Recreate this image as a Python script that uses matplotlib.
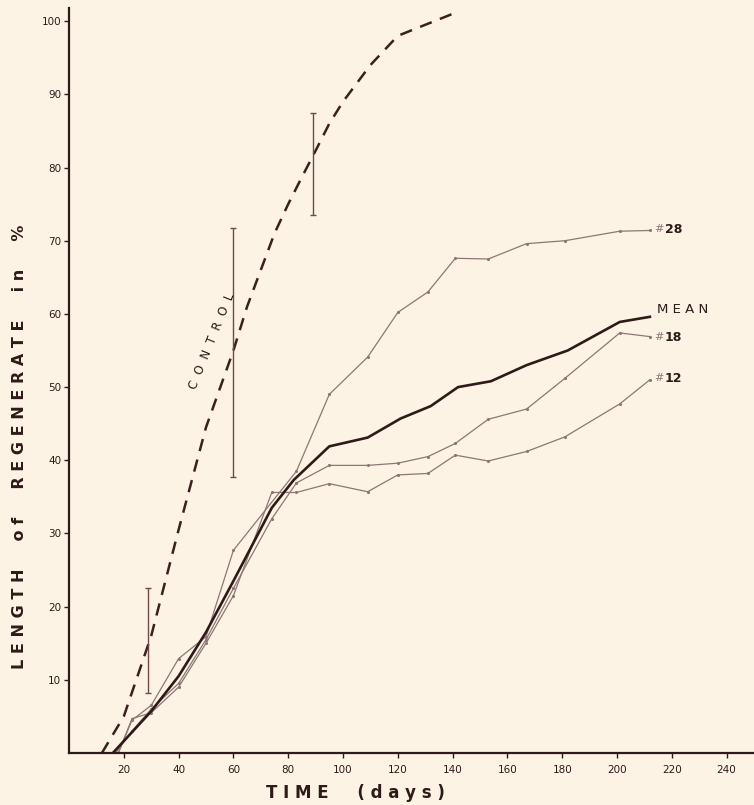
import matplotlib.pyplot as plt
import numpy as np

# colours
bg = "#fcf3e4"
ink = "#2e1a18"
thin = "#8c7774"

# control (dashed) curve
ctrl_days = [12, 20, 30, 40, 50, 60, 65, 70, 75, 80, 85, 90, 95, 100, 110, 120, 130, 140]
ctrl_pct = [0, 5, 16, 30.5, 44.5, 55, 61, 66, 71, 75, 78.7, 82.3, 86, 89, 94, 98, 99.5, 101]

# error bars on the control curve
err_days = [29, 60, 89]
err_mid = [15, 54, 81]
err_lo = [8.2, 37.7, 73.5]
err_hi = [22.5, 71.7, 87.4]

# mean of the operated animals
mean_days = [16, 30, 40, 50, 60, 74, 82, 95, 109, 121, 132, 142, 154, 167, 182, 201, 212]
mean_pct = [0, 5.7, 10.5, 16.5, 23.5, 33.5, 37.3, 41.9, 43.1, 45.7, 47.4, 50.0, 50.8, 53.0, 55.0, 58.9, 59.6]

# individual animals
a28_days = [18, 23, 30, 40, 50, 60, 83, 95, 109, 120, 131, 141, 153, 167, 181, 201, 212]
a28_pct = [0, 4.5, 6.5, 12.9, 15.9, 27.7, 38.5, 49.0, 54.1, 60.2, 63.0, 67.6, 67.5, 69.6, 70.0, 71.3, 71.4]

a18_days = [17, 23, 30, 40, 50, 60, 74, 83, 95, 109, 120, 131, 141, 153, 167, 181, 201, 212]
a18_pct = [0, 3.0, 6.0, 9.5, 15.5, 22.5, 32.0, 36.9, 39.3, 39.3, 39.6, 40.5, 42.3, 45.6, 47.0, 51.2, 57.4, 56.9]

a12_days = [18, 23, 30, 40, 50, 60, 74, 83, 95, 109, 120, 131, 141, 153, 167, 181, 201, 212]
a12_pct = [0, 4.7, 5.5, 9.0, 15.0, 21.5, 35.6, 35.6, 36.8, 35.7, 38.0, 38.2, 40.7, 39.9, 41.2, 43.2, 47.7, 51.0]

fig = plt.figure(figsize=(7.54, 8.05), dpi=100, facecolor=bg)
ax = fig.add_axes([69/754, 52/805, 1 - 69/754, 745/805])
ax.set_facecolor(bg)

# thin individual curves
for d, p in [(a28_days, a28_pct), (a18_days, a18_pct), (a12_days, a12_pct)]:
    ax.plot(d, p, color=thin, lw=0.9, marker=".", ms=2.5)

# mean
ax.plot(mean_days, mean_pct, color=ink, lw=1.9, solid_joinstyle="round")

# control
ln, = ax.plot(ctrl_days, ctrl_pct, color="#3b2020", lw=1.8)
ln.set_dashes((5, 3.5))

yerr = [np.array(err_mid) - np.array(err_lo), np.array(err_hi) - np.array(err_mid)]
ax.errorbar(err_days, err_mid, yerr=yerr, fmt="none", ecolor="#6e4a48",
            elinewidth=1.0, capsize=2.5, capthick=1.0)

ax.text(52.3, 56.2, "C  O  N  T  R  O  L", rotation=68, ha="center", va="center",
        fontsize=8.5, color=ink)

# right hand labels
for y, n in [(71.6, "28"), (56.8, "18"), (51.2, "12")]:
    ax.text(213.5, y, "#", fontsize=8, color=thin, va="center", ha="left")
    ax.text(217.5, y, n, fontsize=9, color=ink, va="center", ha="left", fontweight="bold")
ax.text(214.5, 60.6, "M E A N", fontsize=9.5, color=ink, va="center", ha="left")

ax.set_xlim(0, 250)
ax.set_ylim(0, 101.8)
ax.set_xticks(range(20, 241, 20))
ax.set_yticks(range(10, 101, 10))
ax.tick_params(colors=ink, labelsize=7.5, length=3.5, width=1.0, direction="out")
ax.tick_params(axis="x", pad=5)
ax.tick_params(axis="y", pad=2)
for s in ["top", "right"]:
    ax.spines[s].set_visible(False)
for s in ["left", "bottom"]:
    ax.spines[s].set_color(ink)
    ax.spines[s].set_linewidth(1.6)

fig.text(20/754, 1 - 447/805, "L E N G T H     o f     R E G E N E R A T E     i n     %",
         rotation=90, ha="center", va="center", fontsize=11.5, fontweight="bold", color=ink)
fig.text(355/754, 1 - 793/805, "T I M E     ( d a y s )", ha="center", va="center",
         fontsize=12, fontweight="bold", color=ink)

fig.savefig("out.png", dpi=100, facecolor=bg)
